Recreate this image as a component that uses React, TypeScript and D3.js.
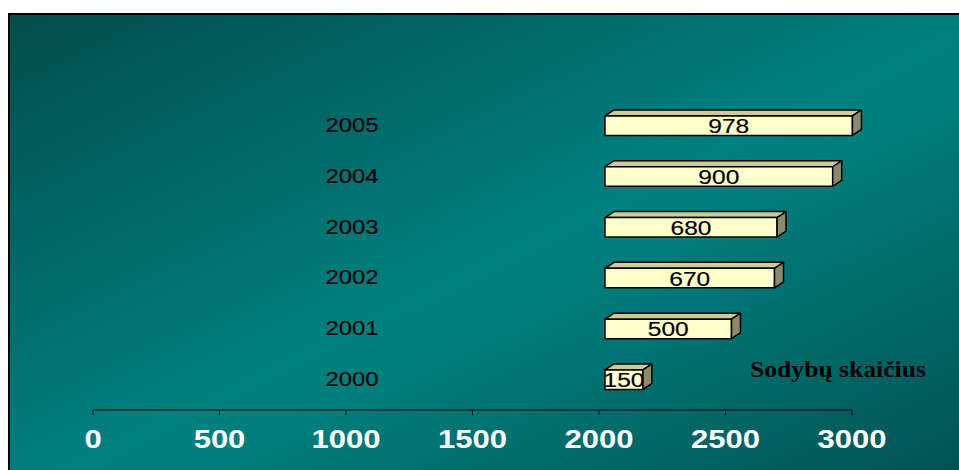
import React from "react";
import * as d3 from "d3";

const years = ["2005", "2004", "2003", "2002", "2001", "2000"];
const values = [978, 900, 680, 670, 500, 150];
const xTicks = [0, 500, 1000, 1500, 2000, 2500, 3000];
const barBase = 2000;
const seriesLabel = "Sodybų skaičius";

const W = 959;
const H = 470;
const SX = 1.17; // horizontal stretch of the original rendering

export default function App() {
  const x = d3.scaleLinear().domain([0, 3000]).range([93, 852]);
  const y = d3.scalePoint<string>().domain(years).range([125.7, 379.7]);
  const barH = 19.5;
  const dx = 9;
  const dy = -6;
  const off = 6;

  const sans = "'Liberation Sans', Arial, sans-serif";
  const serif = "'Liberation Serif', 'Times New Roman', serif";

  return (
    <svg
      width={W}
      height={H}
      style={{ position: "absolute", left: 0, top: 0, background: "#fff" }}
    >
      <defs>
        <linearGradient id="bg" x1="0" y1="0" x2="1" y2="1">
          <stop offset="0" stopColor="#034d4c" />
          <stop offset="0.5" stopColor="#008080" />
          <stop offset="0.56" stopColor="#007f7e" />
          <stop offset="1" stopColor="#024f4e" />
        </linearGradient>
        {years.map((yr, i) => {
          const x0 = x(barBase) + off;
          const x1 = x(barBase + values[i]) + off;
          const cy = y(yr)!;
          return (
            <clipPath id={`clip${yr}`} key={yr}>
              <rect x={x0} y={cy - barH / 2} width={x1 - x0} height={barH} />
            </clipPath>
          );
        })}
      </defs>
      <rect x={9} y={14} width={980} height={480} fill="url(#bg)" stroke="#000" strokeWidth={2} />

      {/* axis */}
      <line x1={x(0)} x2={x(3000)} y1={410} y2={410} stroke="#000" strokeWidth={1} />
      {xTicks.map((t) => (
        <g key={t}>
          <line x1={x(t)} x2={x(t)} y1={410} y2={415} stroke="#000" strokeWidth={1} />
          <text
            transform={`translate(${x(t)},${447.5}) scale(${SX},1)`}
            textAnchor="middle"
            fontFamily={sans}
            fontWeight="bold"
            fontSize={26.5}
            fill="#fff"
          >
            {t}
          </text>
        </g>
      ))}

      {/* year labels */}
      {years.map((yr) => (
        <text
          key={yr}
          transform={`translate(${352},${y(yr)! - 1 + 7.3}) scale(${SX},1)`}
          textAnchor="middle"
          fontFamily={sans}
          fontSize={20.4}
          fill="#000"
          stroke="#000"
          strokeWidth={0.2}
        >
          {yr}
        </text>
      ))}

      {/* bars */}
      {years.map((yr, i) => {
        const x0 = x(barBase) + off;
        const x1 = x(barBase + values[i]) + off;
        const cy = y(yr)!;
        const t = cy - barH / 2;
        const b = cy + barH / 2;
        const top = `M${x0},${t} L${x0 + dx},${t + dy} L${x1 + dx},${t + dy} L${x1},${t} Z`;
        const side = `M${x1},${t} L${x1 + dx},${t + dy} L${x1 + dx},${b + dy} L${x1},${b} Z`;
        return (
          <g key={yr} stroke="#000" strokeWidth={1.5} strokeLinejoin="round">
            <path d={top} fill="#cccc99" />
            <rect x={x0} y={t} width={x1 - x0} height={barH} fill="#ffffcc" />
            <g clipPath={`url(#clip${yr})`}>
              <text
                transform={`translate(${(x0 + x1) / 2},${cy + 7.5}) scale(${SX},1)`}
                textAnchor="middle"
                fontFamily={sans}
                fontSize={21}
                fill="#000"
                stroke="#000"
                strokeWidth={0.2}
              >
                {values[i]}
              </text>
            </g>
            <path d={side} fill="#8a8a6c" />
          </g>
        );
      })}

      <text
        transform={`translate(${750},${377}) scale(1.14,1)`}
        fontFamily={serif}
        fontWeight="bold"
        fontSize={22.5}
        fill="#000"
      >
        {seriesLabel}
      </text>
    </svg>
  );
}
